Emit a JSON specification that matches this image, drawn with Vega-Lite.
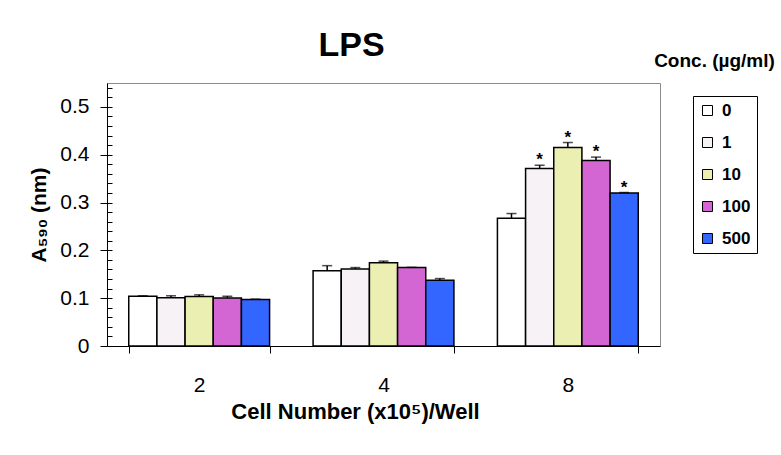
{
  "$schema": "https://vega.github.io/schema/vega-lite/v6.json",
  "width": 553,
  "height": 263,
  "autosize": {"type": "none"},
  "padding": {"left": 107, "top": 83, "right": 121, "bottom": 109},
  "background": "white",
  "title": {
    "text": "LPS",
    "font": "Liberation Sans",
    "fontSize": 34,
    "fontWeight": "bold",
    "color": "black",
    "dx": -32,
    "offset": -12
  },
  "config": {
    "view": {"stroke": "#8c8c8c", "strokeWidth": 1},
    "font": "Liberation Sans"
  },
  "data": {
    "values": [
      {"cells": "2", "conc": "0", "value": 0.104, "upper": 0.105, "sig": ""},
      {"cells": "2", "conc": "1", "value": 0.101, "upper": 0.105, "sig": ""},
      {"cells": "2", "conc": "10", "value": 0.1035, "upper": 0.107, "sig": ""},
      {"cells": "2", "conc": "100", "value": 0.1005, "upper": 0.104, "sig": ""},
      {"cells": "2", "conc": "500", "value": 0.097, "upper": 0.098, "sig": ""},
      {"cells": "4", "conc": "0", "value": 0.1575, "upper": 0.168, "sig": ""},
      {"cells": "4", "conc": "1", "value": 0.161, "upper": 0.164, "sig": ""},
      {"cells": "4", "conc": "10", "value": 0.174, "upper": 0.1775, "sig": ""},
      {"cells": "4", "conc": "100", "value": 0.164, "upper": 0.1645, "sig": ""},
      {"cells": "4", "conc": "500", "value": 0.1375, "upper": 0.141, "sig": ""},
      {"cells": "8", "conc": "0", "value": 0.267, "upper": 0.277, "sig": ""},
      {"cells": "8", "conc": "1", "value": 0.371, "upper": 0.378, "sig": "*"},
      {"cells": "8", "conc": "10", "value": 0.415, "upper": 0.4255, "sig": "*"},
      {"cells": "8", "conc": "100", "value": 0.388, "upper": 0.395, "sig": "*"},
      {"cells": "8", "conc": "500", "value": 0.32, "upper": 0.321, "sig": "*"}
    ]
  },
  "encoding": {
    "x": {
      "field": "cells",
      "type": "nominal",
      "scale": {"paddingInner": 0.236, "paddingOuter": 0.118}
    },
    "xOffset": {
      "field": "conc",
      "type": "nominal",
      "scale": {"domain": ["0", "1", "10", "100", "500"], "paddingInner": 0, "paddingOuter": 0}
    }
  },
  "layer": [
    {
      "mark": {"type": "bar", "stroke": "black", "strokeWidth": 1.5},
      "encoding": {
        "x": {
          "field": "cells",
          "type": "nominal",
          "axis": {
            "orient": "bottom",
            "title": "Cell Number (x10⁵)/Well",
            "titleFont": "Liberation Sans",
            "titleFontSize": 22,
            "titleFontWeight": "bold",
            "titleColor": "black",
            "titleX": 248,
            "titleY": 65,
            "titleAlign": "center",
            "titleBaseline": "middle",
            "labelAngle": 0,
            "labelFontSize": 21,
            "labelColor": "black",
            "labelPadding": 21,
            "domainColor": "black",
            "tickColor": "black",
            "tickBand": "extent",
            "tickSize": 7
          }
        },
        "y": {
          "field": "value",
          "type": "quantitative",
          "scale": {"domain": [0, 0.55], "nice": false},
          "axis": {
            "values": [0, 0.1, 0.2, 0.3, 0.4, 0.5],
            "format": "~g",
            "title": "A₅₉₀ (nm)",
            "titleFont": "Liberation Sans",
            "titleFontSize": 21,
            "titleFontWeight": "bold",
            "titleColor": "black",
            "titlePadding": 10,
            "labelFontSize": 21,
            "labelColor": "black",
            "labelPadding": 11,
            "domainColor": "black",
            "tickColor": "black",
            "tickSize": 7,
            "grid": false
          }
        },
        "fill": {
          "field": "conc",
          "type": "nominal",
          "scale": {
            "domain": ["0", "1", "10", "100", "500"],
            "range": ["#ffffff", "#f6f2f6", "#ebf0b2", "#d466d4", "#3366ff"]
          },
          "legend": {
            "title": null,
            "orient": "none",
            "legendX": 586,
            "legendY": 13,
            "strokeColor": "black",
            "fillColor": "white",
            "padding": 6,
            "symbolType": "square",
            "symbolSize": 100,
            "symbolStrokeColor": "black",
            "symbolStrokeWidth": 1,
            "labelFont": "Liberation Sans",
            "labelFontSize": 17,
            "labelFontWeight": "bold",
            "labelColor": "black",
            "labelOffset": 6,
            "rowPadding": 14
          }
        }
      }
    },
    {
      "mark": {"type": "rule", "color": "black", "strokeWidth": 1.5},
      "encoding": {
        "x": {"field": "cells", "type": "nominal", "axis": null},
        "y": {
          "field": "value",
          "type": "quantitative",
          "axis": {
            "orient": "left",
            "values": [0, 0.02, 0.04, 0.06, 0.08, 0.1, 0.12, 0.14, 0.16, 0.18, 0.2, 0.22, 0.24, 0.26, 0.28, 0.3, 0.32, 0.34, 0.36, 0.38, 0.4, 0.42, 0.44, 0.46, 0.48, 0.5, 0.52, 0.54],
            "labels": false,
            "domain": false,
            "title": null,
            "tickSize": -5,
            "tickColor": "black",
            "grid": false
          }
        },
        "y2": {"field": "upper"}
      }
    },
    {
      "mark": {"type": "tick", "color": "black", "thickness": 1.5, "size": 10},
      "encoding": {
        "x": {"field": "cells", "type": "nominal", "axis": null},
        "y": {"field": "upper", "type": "quantitative", "axis": null}
      }
    },
    {
      "mark": {"type": "text", "color": "black", "fontSize": 17, "fontWeight": "bold", "baseline": "alphabetic", "dy": 0, "font": "Liberation Sans"},
      "encoding": {
        "x": {
          "field": "cells",
          "type": "nominal",
          "axis": {
            "orient": "top",
            "domain": false,
            "ticks": false,
            "labels": false,
            "title": "Conc. (µg/ml)",
            "titleFont": "Liberation Sans",
            "titleFontSize": 19,
            "titleFontWeight": "bold",
            "titleColor": "black",
            "titleX": 607,
            "titleY": -23,
            "titleAlign": "center",
            "titleBaseline": "middle"
          }
        },
        "y": {"field": "upper", "type": "quantitative", "axis": null},
        "text": {"field": "sig"}
      }
    }
  ],
  "resolve": {"axis": {"x": "independent", "y": "independent"}}
}
